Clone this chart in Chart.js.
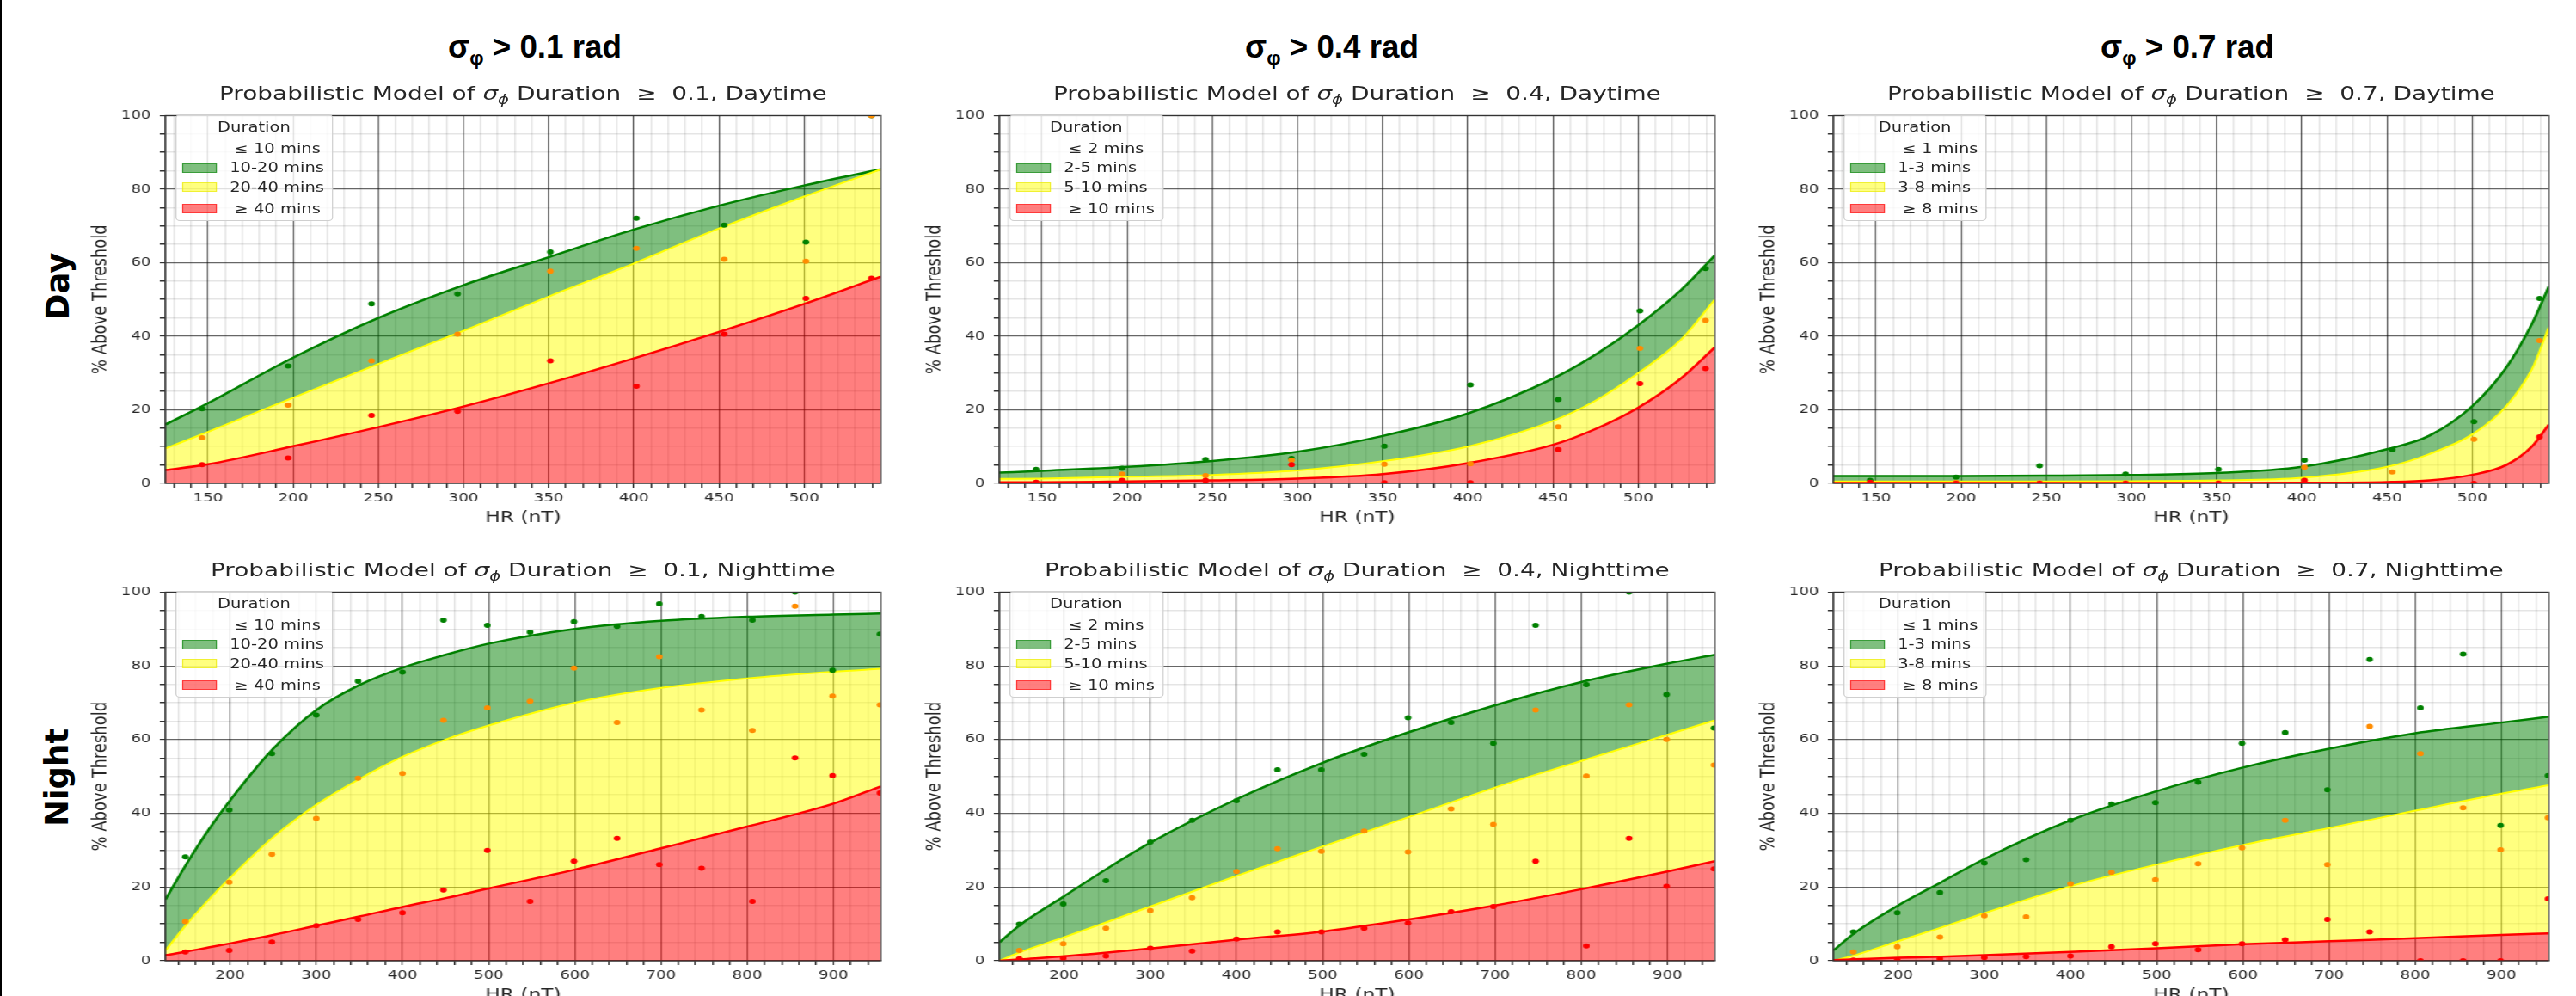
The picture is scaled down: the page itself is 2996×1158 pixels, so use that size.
<!DOCTYPE html>
<html lang="en">
<head>
  <meta charset="UTF-8" />
  <title>Probabilistic Model of sigma-phi Duration</title>
  <script src="https://cdn.jsdelivr.net/npm/chart.js"></script>
  <style>
    body {
      margin: 0;
      width: 2996px;
      height: 1158px;
      overflow: hidden;
      position: relative;
      background: #fff;
      font-family: "DejaVu Sans", sans-serif;
      color: #262626;
    }
    .edge { position: absolute; left: 0; top: 0; width: 2px; height: 1158px; background: #000; }
    .colhead {
      position: absolute; top: 33px; white-space: nowrap; color: #000;
      font-family: "Liberation Sans", Arial, sans-serif;
      font-weight: bold; font-size: 37px; line-height: 44px;
      transform-origin: 0 0;
    }
    .colhead sub { font-size: 0.62em; vertical-align: -0.35em; }
    .rowlabel {
      position: absolute; white-space: nowrap; color: #000;
      font-family: "DejaVu Sans", sans-serif; font-weight: bold; font-size: 37px;
      transform: translate(-50%, -50%) rotate(-90deg);
    }
    .panel { position: absolute; transform-origin: 0 0; transform: scaleX(1.3); }
    .panel canvas { position: absolute; left: 0; top: 0; }
    .ptitle {
      position: absolute; text-align: center; white-space: nowrap;
      font-size: 21.5px; line-height: 26px; height: 26px;
    }
    .ptitle sub { font-size: 0.7em; vertical-align: -0.3em; }
    .legend {
      position: absolute; white-space: nowrap; font-size: 15px;
      background: rgba(255, 255, 255, 0.8);
      border: 1px solid #cfcfcf; border-radius: 4px;
    }
    .legend .row { display: flex; align-items: center; padding-right: 7px; }
    .legend .head { justify-content: center; padding-right: 0; }
    .legend .sw { width: 31px; height: 11px; margin-left: 5px; margin-right: 12px; box-sizing: border-box; flex: none; }
    .legend .math { padding-left: 4px; }
  </style>
</head>
<body>
  <div class="edge"></div>

  <script>
    // ---- data ----
    const dayPointX = [146.5, 197, 246, 296.5, 351, 401.5, 453, 501, 539.5];
    const nightPointX = [148, 199, 248.5, 300, 348.5, 400, 447.5, 498.5, 548, 599, 649, 698, 747, 806, 855.5, 899, 954];

    const yTickLabels = [0, 20, 40, 60, 80, 100];
    const dayXTickLabels = [150, 200, 250, 300, 350, 400, 450, 500];
    const nightXTickLabels = [200, 300, 400, 500, 600, 700, 800, 900];

    const thresholds = ["0.1", "0.4", "0.7"];
    const durations01 = ["≤ 10 mins", "10-20 mins", "20-40 mins", "≥ 40 mins"];
    const durations04 = ["≤ 2 mins", "2-5 mins", "5-10 mins", "≥ 10 mins"];
    const durations07 = ["≤ 1 mins", "1-3 mins", "3-8 mins", "≥ 8 mins"];

    // day, sigma > 0.1
    const day01CurveX = [125, 150, 200, 250, 300, 350, 400, 450, 500, 545];
    const day01Green  = [16, 21.8, 34.2, 45, 53.9, 61.5, 69, 75.5, 81, 85.4];
    const day01Yellow = [9.5, 14, 23.3, 32.5, 41.5, 50.8, 59.8, 69.3, 78, 85.4];
    const day01Red    = [3.6, 5.2, 10.1, 15.3, 20.9, 27.2, 34, 41.2, 48.8, 56.2];
    const day01PtGreen  = [20.3, 31.9, 48.8, 51.5, 62.9, 72.1, 70.2, 65.6, 100];
    const day01PtOrange = [12.4, 21.3, 33.3, 40.6, 57.7, 63.9, 60.9, 60.4, 100];
    const day01PtRed    = [5.1, 6.9, 18.5, 19.6, 33.3, 26.4, 40.6, 50.3, 55.8];

    // day, sigma > 0.4
    const day04CurveX = [125, 150, 200, 250, 300, 350, 400, 450, 475, 500, 525, 545];
    const day04Green  = [2.9, 3.4, 4.5, 6.1, 8.6, 12.9, 19, 28.5, 35, 43, 52.5, 62];
    const day04Yellow = [1.2, 1.3, 1.8, 2.3, 3.5, 6, 10, 17, 22.5, 30, 39, 50];
    const day04Red    = [0.3, 0.3, 0.5, 0.8, 1.3, 2.5, 5.5, 10.5, 14.8, 20.6, 28.5, 37];
    const day04PtGreen  = [3.8, 4.1, 6.5, 6.8, 10.1, 26.8, 22.8, 46.9, 58.4];
    const day04PtOrange = [0.3, 2.5, 2.1, 6.3, 5.2, 5.3, 15.4, 36.7, 44.3];
    const day04PtRed    = [0.3, 0.8, 0.8, 5.1, 0.2, 0.2, 9.2, 27.1, 31.2];

    // day, sigma > 0.7
    const day07CurveX = [125, 150, 200, 250, 300, 350, 400, 450, 475, 500, 520, 535, 545];
    const day07Green  = [2, 2, 2, 2.1, 2.3, 2.8, 4.5, 9.3, 13, 21, 31.5, 43.3, 53.5];
    const day07Yellow = [0.5, 0.5, 0.5, 0.5, 0.6, 0.8, 1.5, 4.5, 8, 13.3, 21, 31, 42.5];
    const day07Red    = [0.1, 0.1, 0.1, 0.1, 0.1, 0.1, 0.15, 0.35, 0.8, 2.3, 5, 10, 16];
    const day07PtGreen  = [0.8, 1.7, 4.8, 2.5, 3.8, 6.3, 9.2, 16.8, 50.3];
    const day07PtOrange = [0.2, 0.3, 0.2, 0.2, 0.2, 4.4, 3.1, 12, 38.8];
    const day07PtRed    = [0.3, 0, 0, 0, 0, 0.8, 0, 0, 12.6];

    // night, sigma > 0.1
    const night01CurveX = [125, 150, 175, 200, 250, 300, 350, 400, 450, 500, 600, 700, 800, 900, 955];
    const night01Green  = [16.6, 26.5, 35.5, 43.5, 57.5, 68, 74.8, 79.5, 83, 86, 90, 92.2, 93.3, 93.9, 94.2];
    const night01Yellow = [2.8, 10, 16.5, 22.5, 33.5, 42.3, 49.3, 55.3, 60, 63.8, 70, 74, 76.6, 78.4, 79.2];
    const night01Red    = [1.5, 2.5, 3.6, 4.7, 7, 9.5, 12, 14.6, 17, 19.6, 24.7, 30.5, 36.4, 42.6, 47.3];
    const night01PtGreen  = [28.2, 40.9, 56.2, 66.6, 75.8, 78.3, 92.4, 91, 89.1, 92, 90.7, 96.8, 93.4, 92.4, 100, 78.8, 88.6];
    const night01PtOrange = [10.6, 21.3, 28.9, 38.6, 49.5, 50.8, 65.2, 68.6, 70.4, 79.4, 64.6, 82.5, 68, 62.5, 96.2, 71.8, 69.4];
    const night01PtRed    = [2.4, 2.8, 5.1, 9.5, 11.2, 13, 19.2, 29.9, 16.1, 27, 33.2, 26.1, 25.1, 16.1, 55, 50.2, 45.5];

    // night, sigma > 0.4
    const night04CurveX = [125, 150, 200, 250, 300, 400, 500, 600, 700, 800, 900, 955];
    const night04Green  = [5, 9.9, 17.5, 25, 32, 43.8, 53.7, 62, 69.3, 75.6, 80.6, 83];
    const night04Yellow = [0, 2.4, 6.4, 10.5, 14.7, 23, 31, 39, 47, 54.2, 61.3, 65.2];
    const night04Red    = [0, 0.4, 1.2, 2.2, 3.3, 5.7, 7.9, 11.2, 15, 19.4, 24.2, 27];
    const night04PtGreen  = [9.9, 15.4, 21.7, 32.2, 38.1, 43.4, 51.8, 51.8, 56, 65.9, 64.6, 59, 91, 74.9, 100, 72.2, 63.1];
    const night04PtOrange = [2.8, 4.6, 8.8, 13.6, 17.1, 24.2, 30.4, 29.7, 35.2, 29.5, 41.2, 37, 68, 50.1, 69.4, 60, 53.1];
    const night04PtRed    = [0.5, 0.7, 1.3, 3.4, 2.6, 5.9, 7.8, 7.8, 8.8, 10.2, 13.3, 14.7, 27, 4, 33.2, 20.2, 24.9];

    // night, sigma > 0.7
    const night07CurveX = [125, 150, 200, 250, 300, 400, 500, 600, 700, 800, 900, 955];
    const night07Green  = [2.8, 7.6, 15, 21.3, 27.6, 38.1, 46, 52.4, 57.5, 61.7, 64.6, 66.2];
    const night07Yellow = [0, 1.5, 5.3, 9, 12.9, 20.2, 26.1, 31.4, 36, 40.7, 45.3, 47.6];
    const night07Red    = [0.2, 0.4, 0.8, 1.1, 1.5, 2.4, 3.4, 4.5, 5.3, 6.1, 7, 7.4];
    const night07PtGreen  = [7.8, 13, 18.5, 26.5, 27.4, 38.1, 42.5, 42.9, 48.4, 59, 61.9, 46.4, 81.7, 68.6, 83.2, 36.7, 50.2];
    const night07PtOrange = [2.4, 3.8, 6.4, 12.2, 11.9, 20.9, 24, 22, 26.3, 30.6, 38.1, 26.1, 63.6, 56.2, 41.5, 30.1, 38.8];
    const night07PtRed    = [0.2, 0.2, 0.5, 0.9, 1.1, 1.3, 3.8, 4.6, 3, 4.6, 5.7, 11.2, 7.8, 0, 0, 0, 16.8];

    // ---- layout (page pixels) ----
    const STRETCH = 1.3;            // the source figure was widened
    const AXW = 68, PADR = 12, PADT = 8, AXH = 51, PLOTW = 640;
    const plotLeft = [192, 1162, 2132];
    const plotTop = [126, 680];
    const plotHeight = [436, 437];
    const headCenter = [622, 1549, 2544];
    const headWidth = 202;

    const panels = [
      { row: 0, col: 0, when: "Daytime", labels: durations01, px: dayPointX, cx: day01CurveX, g: day01Green, y: day01Yellow, r: day01Red, pg: day01PtGreen, po: day01PtOrange, pr: day01PtRed },
      { row: 0, col: 1, when: "Daytime", labels: durations04, px: dayPointX, cx: day04CurveX, g: day04Green, y: day04Yellow, r: day04Red, pg: day04PtGreen, po: day04PtOrange, pr: day04PtRed },
      { row: 0, col: 2, when: "Daytime", labels: durations07, px: dayPointX, cx: day07CurveX, g: day07Green, y: day07Yellow, r: day07Red, pg: day07PtGreen, po: day07PtOrange, pr: day07PtRed },
      { row: 1, col: 0, when: "Nighttime", labels: durations01, px: nightPointX, cx: night01CurveX, g: night01Green, y: night01Yellow, r: night01Red, pg: night01PtGreen, po: night01PtOrange, pr: night01PtRed },
      { row: 1, col: 1, when: "Nighttime", labels: durations04, px: nightPointX, cx: night04CurveX, g: night04Green, y: night04Yellow, r: night04Red, pg: night04PtGreen, po: night04PtOrange, pr: night04PtRed },
      { row: 1, col: 2, when: "Nighttime", labels: durations07, px: nightPointX, cx: night07CurveX, g: night07Green, y: night07Yellow, r: night07Red, pg: night07PtGreen, po: night07PtOrange, pr: night07PtRed }
    ];

    const pairs = (xs, ys) => ys.map((v, i) => ({ x: xs[i], y: v }));

    function stepTicks(from, to, step) {
      const out = [];
      for (let v = from; v <= to + 1e-9; v += step) out.push({ value: v });
      return out;
    }

    const tickFont = { family: "DejaVu Sans", size: 14 };
    const labelFont = { family: "DejaVu Sans", size: 18 };

    function gridFor(isMajor) {
      return {
        color: c => (c.tick && isMajor(c.tick.value)) ? "rgba(0,0,0,0.6)" : "rgba(0,0,0,0.1)",
        lineWidth: c => (c.tick && isMajor(c.tick.value)) ? 1.2 : 1.5,
        tickColor: "#333",
        tickLength: 5,
        drawTicks: true
      };
    }

    // top and right spines
    const framePlugin = {
      id: "frame",
      afterDraw(chart) {
        const { ctx, chartArea: a } = chart;
        ctx.save();
        ctx.strokeStyle = "#333";
        ctx.lineWidth = 1.2;
        ctx.strokeRect(a.left, a.top, a.right - a.left, a.bottom - a.top);
        ctx.restore();
      }
    };

    function curve(xs, ys, color, width, fill) {
      return {
        data: pairs(xs, ys), borderColor: color.line, backgroundColor: color.fill,
        borderWidth: width, fill: fill, pointRadius: 0, cubicInterpolationMode: "monotone",
        order: 1, clip: 0
      };
    }
    function dots(xs, ys, color) {
      return {
        data: pairs(xs, ys), showLine: false, pointRadius: 3, pointBorderWidth: 0,
        pointBackgroundColor: color, backgroundColor: color, borderColor: color,
        order: 0, clip: 0
      };
    }

    const RED = { line: "#ff0000", fill: "rgba(255,0,0,0.5)" };
    const YEL = { line: "#ffff00", fill: "rgba(255,255,0,0.5)" };
    const GRN = { line: "#008000", fill: "rgba(0,128,0,0.5)" };

    // column headers (squeezed to the narrow bold face of the original)
    thresholds.forEach((t, i) => {
      const h = document.createElement("div");
      h.className = "colhead";
      h.innerHTML = "σ<sub>φ</sub> &gt; " + t + " rad";
      document.body.appendChild(h);
      const w = h.getBoundingClientRect().width;
      const s = headWidth / w;
      h.style.left = (headCenter[i] - headWidth / 2) + "px";
      h.style.transform = "scaleX(" + s + ")";
    });
    [["Day", 67, 333], ["Night", 66, 904]].forEach(([txt, x, y]) => {
      const d = document.createElement("div");
      d.className = "rowlabel";
      d.style.left = x + "px";
      d.style.top = y + "px";
      d.textContent = txt;
      document.body.appendChild(d);
    });

    panels.forEach(p => {
      const night = p.row === 1;
      const ph = plotHeight[p.row];
      const wrap = document.createElement("div");
      wrap.className = "panel";
      wrap.style.left = (plotLeft[p.col] - AXW * STRETCH) + "px";
      wrap.style.top = (plotTop[p.row] - PADT) + "px";
      document.body.appendChild(wrap);

      const canvas = document.createElement("canvas");
      canvas.width = AXW + PLOTW + PADR;
      canvas.height = PADT + ph + AXH;
      wrap.appendChild(canvas);

      const title = document.createElement("div");
      title.className = "ptitle";
      title.style.left = AXW + "px";
      title.style.width = PLOTW + "px";
      title.style.top = (PADT - 17 - 13) + "px";
      title.innerHTML = "Probabilistic Model of <i>σ</i><sub><i>ϕ</i></sub> Duration&nbsp; ≥ &nbsp;" +
        thresholds[p.col] + ", " + p.when;
      wrap.appendChild(title);

      const lg = document.createElement("div");
      lg.className = "legend";
      lg.style.left = (AXW + 8.5) + "px";
      lg.style.top = (PADT + 7) + "px";
      const rowH = [27, 23, 22, 23.5, 26.5];
      const swatch = [null, GRN.fill, YEL.fill, RED.fill];
      const edge = [null, "rgba(0,128,0,0.55)", "rgba(230,230,0,0.6)", "rgba(255,0,0,0.55)"];
      let html = '<div class="row head" style="height:' + rowH[0] + 'px">Duration</div>';
      p.labels.forEach((lab, i) => {
        const sw = swatch[i]
          ? '<span class="sw" style="background:' + swatch[i] + ';border:1px solid ' + edge[i] + '"></span>'
          : '<span class="sw"></span>';
        const cls = (i === 0 || i === 3) ? "math" : "";
        html += '<div class="row" style="height:' + rowH[i + 1] + 'px">' + sw +
          '<span class="' + cls + '">' + lab + "</span></div>";
      });
      lg.innerHTML = html;
      wrap.appendChild(lg);

      const xMin = 125, xMax = night ? 955 : 545;
      const xStep = night ? 20 : 10;
      const xMajors = night ? nightXTickLabels : dayXTickLabels;

      new Chart(canvas, {
        type: "line",
        data: {
          datasets: [
            curve(p.cx, p.r, RED, 2.5, "origin"),
            curve(p.cx, p.y, YEL, 2, "-1"),
            curve(p.cx, p.g, GRN, 2.5, "-1"),
            dots(p.px, p.pr, "#ff0000"),
            dots(p.px, p.po, "#ff8c00"),
            dots(p.px, p.pg, "#008000")
          ]
        },
        options: {
          responsive: false,
          animation: false,
          devicePixelRatio: 1,
          layout: { padding: { left: 0, top: PADT, right: PADR, bottom: 0 } },
          plugins: { legend: { display: false }, tooltip: { enabled: false } },
          scales: {
            x: {
              type: "linear", min: xMin, max: xMax,
              afterBuildTicks: a => { a.ticks = stepTicks(Math.ceil(xMin / xStep) * xStep, xMax, xStep); },
              afterFit: a => { a.height = AXH; },
              ticks: {
                autoSkip: false, maxRotation: 0, padding: 4, font: tickFont, color: "#262626",
                callback: v => xMajors.includes(v) ? String(v) : ""
              },
              grid: gridFor(v => xMajors.includes(v)),
              border: { color: "#333", width: 1.2 },
              title: { display: true, text: "HR (nT)", font: labelFont, color: "#262626", padding: 0 }
            },
            y: {
              min: 0, max: 100,
              afterBuildTicks: a => { a.ticks = stepTicks(0, 100, 5); },
              afterFit: a => { a.width = AXW; },
              ticks: {
                autoSkip: false, padding: 8, font: tickFont, color: "#262626",
                callback: v => yTickLabels.includes(v) ? String(v) : ""
              },
              grid: gridFor(v => yTickLabels.includes(v)),
              border: { color: "#333", width: 1.2 },
              title: { display: true, text: "% Above Threshold", font: labelFont, color: "#262626", padding: 0 }
            }
          }
        },
        plugins: [framePlugin]
      });
    });
  </script>
</body>
</html>
